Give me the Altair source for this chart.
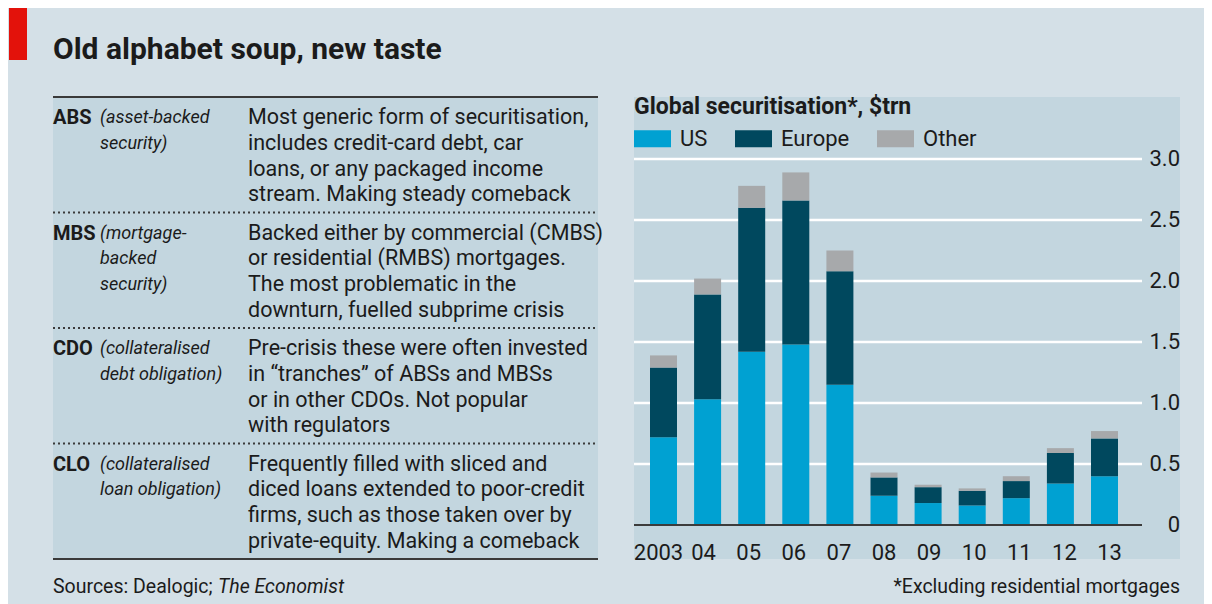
import altair as alt
import pandas as pd

# ---------------- data ----------------
years = list(range(2003, 2014))
year_labels = ["2003", "04", "05", "06", "07", "08", "09", "10", "11", "12", "13"]
us_values = [0.72, 1.03, 1.42, 1.48, 1.15, 0.24, 0.18, 0.16, 0.22, 0.34, 0.40]
europe_values = [0.57, 0.86, 1.18, 1.18, 0.93, 0.15, 0.13, 0.12, 0.14, 0.25, 0.31]
other_values = [0.10, 0.13, 0.18, 0.23, 0.17, 0.04, 0.02, 0.02, 0.04, 0.04, 0.06]
regions = ["US", "Europe", "Other"]
region_colors = ["#00a1d2", "#00485e", "#a7a9ab"]

tick_values = [0, 0.5, 1.0, 1.5, 2.0, 2.5, 3.0]
tick_labels = ["0", "0.5", "1.0", "1.5", "2.0", "2.5", "3.0"]

terms = ["ABS", "MBS", "CDO", "CLO"]
term_notes = [
    ["(asset-backed", "security)"],
    ["(mortgage-", "backed", "security)"],
    ["(collateralised", "debt obligation)"],
    ["(collateralised", "loan obligation)"],
]
term_descriptions = [
    ["Most generic form of securitisation,", "includes credit-card debt, car",
     "loans, or any packaged income", "stream. Making steady comeback"],
    ["Backed either by commercial (CMBS)", "or residential (RMBS) mortgages.",
     "The most problematic in the", "downturn, fuelled subprime crisis"],
    ["Pre-crisis these were often invested", "in \u201ctranches\u201d of ABSs and MBSs",
     "or in other CDOs. Not popular", "with regulators"],
    ["Frequently filled with sliced and", "diced loans extended to poor-credit",
     "firms, such as those taken over by", "private-equity. Making a comeback"],
]

title_text = "Old alphabet soup, new taste"
subtitle_text = "Global securitisation*, $trn"
source_plain = "Sources: Dealogic;"
source_italic = "The Economist"
footnote_text = "*Excluding residential mortgages"

# ---------------- tables for the library ----------------
bars_df = pd.DataFrame(
    [
        {"year": y, "region": r, "value": v, "idx": i}
        for i, (r, vals) in enumerate(zip(regions, [us_values, europe_values, other_values]))
        for y, v in zip(years, vals)
    ]
)
ticks_df = pd.DataFrame({"value": tick_values, "label": tick_labels})
years_df = pd.DataFrame({"year": years, "label": year_labels})

rows = []
for r, term in enumerate(terms):
    rows.append({"row": r, "line": 0, "kind": "term", "text": term})
    for l, t in enumerate(term_notes[r]):
        rows.append({"row": r, "line": l, "kind": "note", "text": t})
    for l, t in enumerate(term_descriptions[r]):
        rows.append({"row": r, "line": l, "kind": "desc", "text": t})
table_df = pd.DataFrame(rows)
sep_df = pd.DataFrame({"b": list(range(len(terms) + 1))})
sep_df["kind"] = ["solid" if b in (0, len(terms)) else "dotted" for b in sep_df["b"]]

# ---------------- styling ----------------
FONT = "Roboto"
INK = "#1b1b1b"
BG = "#d4e0e7"
PANEL = "#c3d6df"
W, H = 1196, 596

TY = alt.Scale(domain=[-0.75, 17.25], range=[89, 551], nice=False, zero=False)
XS = alt.Scale(domain=[2003, 2013], range=[650.5, 1101.5], nice=False, zero=False)
YS = alt.Scale(domain=[0, 3], range=[517, 151], nice=False, zero=False)


def blank():
    return alt.Chart(alt.Data(values=[{}]))


red_block = blank().mark_rect(color="#e3120b").encode(
    x=alt.value(1), x2=alt.value(19), y=alt.value(0), y2=alt.value(52)
)
title_mark = blank().mark_text(
    text=title_text, font=FONT, fontWeight="bold", fontSize=30, align="left",
    baseline="alphabetic", color=INK
).encode(x=alt.value(45), y=alt.value(51))

table_fill = blank().mark_rect(color=PANEL).encode(
    x=alt.value(45), x2=alt.value(590), y=alt.value(89), y2=alt.value(551)
)
panel_fill = blank().mark_rect(color=PANEL).encode(
    x=alt.value(626), x2=alt.value(1172), y=alt.value(89), y2=alt.value(551)
)

sep_base = alt.Chart(sep_df).transform_calculate(pos="datum.b * 4.5 - 0.75")
sep_solid = sep_base.transform_filter("datum.kind == 'solid'").mark_rule(
    color="#3a3a3a", strokeWidth=2
).encode(y=alt.Y("pos:Q", scale=TY, axis=None), x=alt.value(45), x2=alt.value(590))
sep_dotted = sep_base.transform_filter("datum.kind == 'dotted'").mark_rule(
    color="#3a3a3a", strokeWidth=2, strokeDash=[2, 3]
).encode(y=alt.Y("pos:Q", scale=TY, axis=None), x=alt.value(45), x2=alt.value(590))

tbase = alt.Chart(table_df).transform_calculate(pos="datum.row * 4.5 + datum.line")
term_marks = tbase.transform_filter("datum.kind == 'term'").mark_text(
    font=FONT, fontWeight="bold", fontSize=20, align="left", baseline="middle", color=INK, dy=2
).encode(x=alt.value(45), y=alt.Y("pos:Q", scale=TY, axis=None), text="text:N")
note_marks = tbase.transform_filter("datum.kind == 'note'").mark_text(
    font=FONT, fontStyle="italic", fontSize=18, align="left", baseline="middle", color=INK, dy=2
).encode(x=alt.value(92), y=alt.Y("pos:Q", scale=TY, axis=None), text="text:N")
desc_marks = tbase.transform_filter("datum.kind == 'desc'").mark_text(
    font=FONT, fontSize=21.5, align="left", baseline="middle", color=INK, dy=2
).encode(x=alt.value(240), y=alt.Y("pos:Q", scale=TY, axis=None), text="text:N")

source_a = blank().mark_text(
    text=source_plain, font=FONT, fontSize=19.5, align="left", baseline="middle", color=INK
).encode(x=alt.value(45), y=alt.value(579))
source_b = blank().mark_text(
    text=source_italic, font=FONT, fontStyle="italic", fontSize=19.5, align="left",
    baseline="middle", color=INK
).encode(x=alt.value(210), y=alt.value(579))

subtitle_mark = blank().mark_text(
    text=subtitle_text, font=FONT, fontWeight="bold", fontSize=23, align="left",
    baseline="middle", color=INK
).encode(x=alt.value(626), y=alt.value(99))

grid = alt.Chart(ticks_df).transform_filter("datum.value > 0").mark_rule(
    color="white", strokeWidth=2.5
).encode(y=alt.Y("value:Q", scale=YS, axis=None), x=alt.value(626), x2=alt.value(1134))

bars = alt.Chart(bars_df).mark_bar(size=27).encode(
    x=alt.X("year:Q", scale=XS, axis=None),
    y=alt.Y("value:Q", scale=YS, axis=None, stack="zero"),
    color=alt.Color(
        "region:N",
        scale=alt.Scale(domain=regions, range=region_colors),
        legend=alt.Legend(
            title=None, orient="none", legendX=626, legendY=112, direction="horizontal",
            columns=3, columnPadding=27,
            symbolType="M-1,-0.46L1,-0.46L1,0.46L-1,0.46Z", symbolSize=1369,
            symbolStrokeWidth=0, symbolOpacity=1,
            labelFont=FONT, labelFontSize=22, labelColor=INK, labelOffset=9,
        ),
    ),
    order=alt.Order("idx:Q", sort="ascending"),
)

zero_line = alt.Chart(ticks_df).transform_filter("datum.value == 0").mark_rule(
    color="#3c3c3c", strokeWidth=2
).encode(y=alt.Y("value:Q", scale=YS, axis=None), x=alt.value(626), x2=alt.value(1134))

tick_text = alt.Chart(ticks_df).mark_text(
    font=FONT, fontSize=22, align="right", baseline="middle", color=INK
).encode(x=alt.value(1172), y=alt.Y("value:Q", scale=YS, axis=None), text="label:N")

year_text = alt.Chart(years_df).mark_text(
    font=FONT, fontSize=22, align="center", baseline="middle", color=INK
).encode(x=alt.X("year:Q", scale=XS, axis=None), y=alt.value(545), text="label:N")

footnote_mark = blank().mark_text(
    text=footnote_text, font=FONT, fontSize=19.5, align="right", baseline="middle", color=INK
).encode(x=alt.value(1172), y=alt.value(579))

chart = alt.layer(
    red_block, title_mark, table_fill, panel_fill,
    sep_solid, sep_dotted, term_marks, note_marks, desc_marks,
    source_a, source_b, subtitle_mark,
    grid, bars, zero_line, tick_text, year_text, footnote_mark,
).resolve_scale(
    x="independent", y="independent", color="independent"
).properties(
    width=W, height=H, autosize=alt.AutoSizeParams(type="none"), padding=0, background=BG
).configure_view(stroke=None)

chart.save("out.html", embed_options={"renderer": "svg", "actions": False})
